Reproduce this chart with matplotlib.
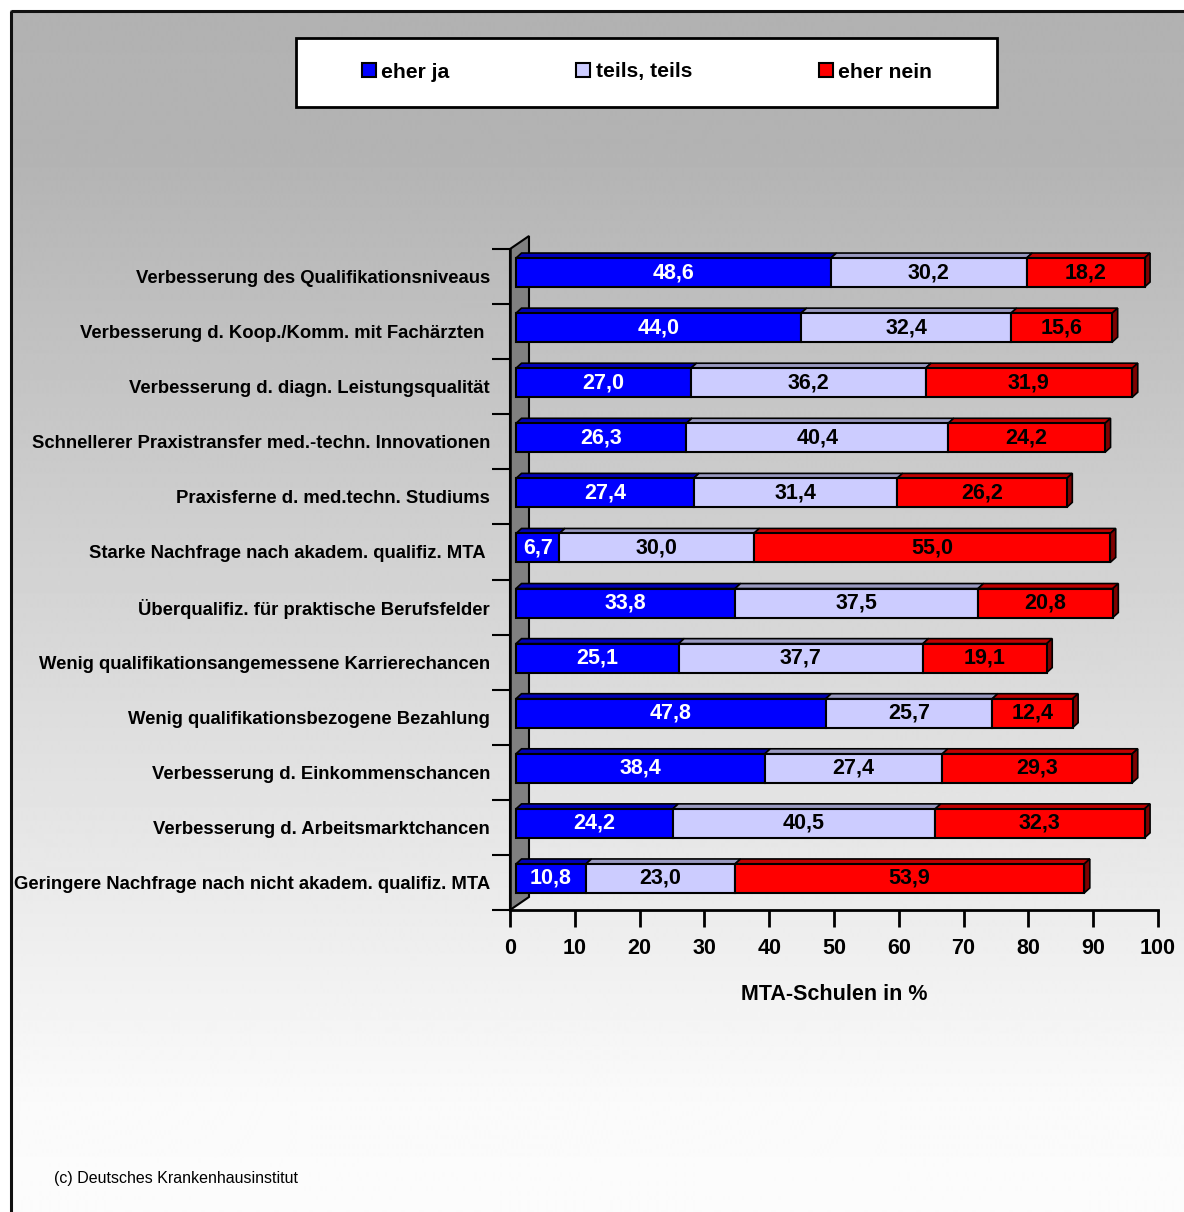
import matplotlib
matplotlib.use("Agg")
import matplotlib.pyplot as plt
import numpy as np
from matplotlib.patches import Polygon, Rectangle, Patch

plt.rcParams['font.family'] = ['Liberation Sans', 'DejaVu Sans']
plt.rcParams['font.weight'] = 'bold'

# Survey answers, percent of MTA schools (top row first)
categories = [
    "Verbesserung des Qualifikationsniveaus",
    "Verbesserung d. Koop./Komm. mit Fachärzten ",
    "Verbesserung d. diagn. Leistungsqualität",
    "Schnellerer Praxistransfer med.-techn. Innovationen",
    "Praxisferne d. med.techn. Studiums",
    "Starke Nachfrage nach akadem. qualifiz. MTA ",
    "Überqualifiz. für praktische Berufsfelder",
    "Wenig qualifikationsangemessene Karrierechancen",
    "Wenig qualifikationsbezogene Bezahlung",
    "Verbesserung d. Einkommenschancen",
    "Verbesserung d. Arbeitsmarktchancen",
    "Geringere Nachfrage nach nicht akadem. qualifiz. MTA",
]
eher_ja = [48.6, 44.0, 27.0, 26.3, 27.4, 6.7, 33.8, 25.1, 47.8, 38.4, 24.2, 10.8]
teils = [30.2, 32.4, 36.2, 40.4, 31.4, 30.0, 37.5, 37.7, 25.7, 27.4, 40.5, 23.0]
eher_nein = [18.2, 15.6, 31.9, 24.2, 26.2, 55.0, 20.8, 19.1, 12.4, 29.3, 32.3, 53.9]

series = [
    ("eher ja", eher_ja, "#0000FF", "#0000B8", "#000080", "white"),
    ("teils, teils", teils, "#CCCCFF", "#9999C0", "#666699", "black"),
    ("eher nein", eher_nein, "#FF0000", "#C00000", "#800000", "black"),
]

W, H = 1184, 1212
fig = plt.figure(figsize=(W / 100, H / 100), dpi=100)
fig.patch.set_facecolor("white")

# background: grey-to-white gradient inside a black frame
bg = fig.add_axes([0, 0, 1, 1], zorder=-10)
bg.set_xlim(0, W)
bg.set_ylim(H, 0)
bg.axis("off")
rows = np.arange(10, H + 1)
shade = np.interp(rows, [10, 150, 1100, H], [178, 179, 250, 252]) / 255.0
grad = np.repeat(shade[:, None], 2, axis=1)
bg.imshow(grad, cmap="gray", vmin=0, vmax=1, aspect="auto",
          extent=(10, W + 5, H, 10), interpolation="bilinear")
bg.add_patch(Rectangle((10.5, 11), W + 20, H + 20, fill=False,
                       edgecolor="#111111", linewidth=2.2))

# legend box
bg.add_patch(Rectangle((296, 38), 701, 69, facecolor="white",
                       edgecolor="black", linewidth=2))

# plot area in pixel terms: x 510..1158, y 249..910
left, right, top, bottom = 510, 1158, 249, 910
ax = fig.add_axes([left / W, 1 - bottom / H, (right - left) / W, (bottom - top) / H])
ax.set_facecolor("none")
n = len(categories)
ax.set_xlim(0, 100)
ax.set_ylim(n - 0.5, -0.5)

ux = (right - left) / 100.0       # px per percent
uy = (bottom - top) / n           # px per row

def px_x(p):
    return p / ux

def px_y(p):
    # upward pixel offset -> data offset (y axis inverted)
    return -p / uy

# side wall
wall = Polygon([(0, n - 0.5), (0, -0.5), (px_x(19), -0.5 + px_y(13)),
                (px_x(19), n - 0.5 + px_y(13))], closed=True,
               facecolor="#808080", edgecolor="black", linewidth=1.5,
               clip_on=False, zorder=1)
ax.add_patch(wall)

fx, fy = px_x(6), px_y(4)          # bar front plane offset
dx, dy = px_x(5.5), px_y(5)        # bar depth
bh = 29 / uy

for i in range(n):
    yc = i + fy
    yt = yc - bh / 2
    yb = yc + bh / 2
    start = fx
    last = len(series) - 1
    for k, (name, vals, col, topc, sidec, tcol) in enumerate(series):
        v = vals[i]
        xl, xr = start, start + v
        ax.add_patch(Polygon([(xl, yt), (xr, yt), (xr + dx, yt + dy), (xl + dx, yt + dy)],
                             closed=True, facecolor=topc, edgecolor="black",
                             linewidth=1.2, clip_on=False, zorder=3))
        if k == last:
            ax.add_patch(Polygon([(xr, yt), (xr, yb), (xr + dx, yb + dy), (xr + dx, yt + dy)],
                                 closed=True, facecolor=sidec, edgecolor="black",
                                 linewidth=1.2, clip_on=False, zorder=3))
        ax.add_patch(Rectangle((xl, yt), v, bh, facecolor=col, edgecolor="black",
                               linewidth=1.5, clip_on=False, zorder=4))
        ax.text((xl + xr) / 2, yc, f"{v:.1f}".replace(".", ","), ha="center",
                va="center", color=tcol, fontsize=15.5, fontweight="bold", zorder=5)
        start = xr

# axes, ticks and labels
for s in ("top", "right"):
    ax.spines[s].set_visible(False)
ax.spines["left"].set_linewidth(1.8)
ax.spines["bottom"].set_linewidth(2)
ax.spines["left"].set_zorder(2)

ax.set_xticks(np.arange(0, 101, 10))
ax.tick_params(axis="x", direction="out", length=12, width=2, pad=8,
               labelsize=15.5)
ax.set_yticks(np.arange(n + 1) - 0.5)
ax.set_yticklabels([])
ax.tick_params(axis="y", which="major", direction="out", length=13, width=1.5)
ax.set_yticks(np.arange(n), minor=True)
ax.set_yticklabels(categories, minor=True)
ax.tick_params(axis="y", which="minor", length=0, pad=14.4, labelsize=13.35)
ax.set_xlabel("MTA-Schulen in %", fontsize=15.5, fontweight="bold", labelpad=18)

handles = [Patch(facecolor=c, edgecolor="black", linewidth=1.5, label=nm)
           for nm, _, c, _, _, _ in series]
fig.legend(handles=handles, loc="center", ncol=3, frameon=False,
           bbox_to_anchor=(647 / W, 1 - 72 / H), fontsize=15.2,
           handlelength=0.67, handleheight=0.67, handletextpad=0.25,
           columnspacing=6.0)

fig.text(54 / W, 1 - 1178 / H, "(c) Deutsches Krankenhausinstitut",
         fontsize=11.5, fontweight="normal", ha="left", va="center")

fig.savefig("out.png", dpi=100)
